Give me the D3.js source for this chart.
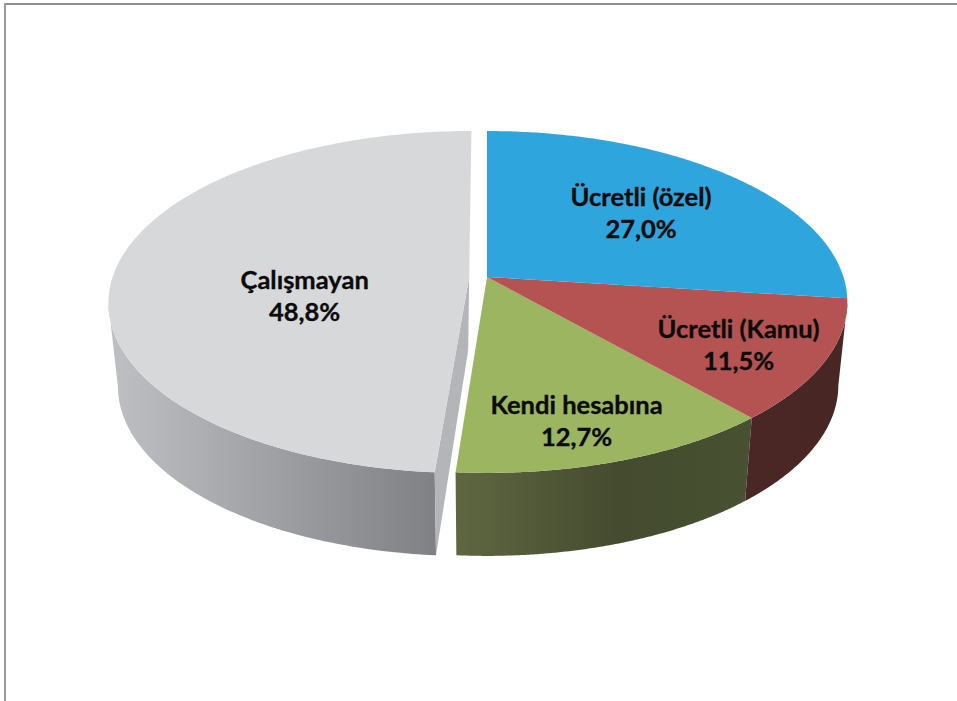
<!DOCTYPE html>
<html>
<head>
<meta charset="utf-8">
<script src="https://cdn.jsdelivr.net/npm/d3@7/dist/d3.min.js"></script>
<style>
html,body{margin:0;padding:0;background:#fff;overflow:hidden}
svg{display:block}
text{font-family:Lato,"Open Sans",sans-serif;font-weight:700;font-size:25.5px;fill:#0b0b0b;stroke:#0b0b0b;stroke-width:.35px;text-anchor:middle}
</style>
</head>
<body>
<svg id="c" width="957" height="701"></svg>
<script>
const categories = ["Ücretli (özel)", "Ücretli (Kamu)", "Kendi hesabına", "Çalışmayan"];
const values = [27.0, 11.5, 12.7, 48.8];
const valueLabels = ["27,0%", "11,5%", "12,7%", "48,8%"];
const topColors = ["#2fa5de", "#b55353", "#9bb561", "#d7d8da"];

const sideStops = [
  [["0%", "#2a7aa0"], ["100%", "#2a7aa0"]],
  [["0%", "#4a2725"], ["100%", "#482624"]],
  [["0%", "#5f6741"], ["55%", "#444b2f"], ["100%", "#485131"]],
  [["0%", "#bfc0c4"], ["100%", "#808185"]]
];
const wallColors = ["#2a7aa0", "#4a2725", "#444b2f", "#b4b5b9"];
const explodeX = [0, 0, 0, -0.05];
const labelNudge = [[0, 9], [51, 27], [14, 47], [52, 32]];

const W = 957, H = 701;
const cx = 487, cy = 277;
const persp = 0.146;
const depth = 83, wallDepth = 73;
const sx = d3.scaleLinear().domain([-1, 1]).range([cx - 356.5, cx + 356.5]);
const sy = d3.scaleLinear().domain([-1, 1]).range([cy - 167.3, cy + 167.3]);
const shrink = 0.975;

function project(x, y, bottom) {
  const w = 1 - persp * y;
  const X = sx(x / w), Y = sy(y / w);
  return bottom ? [cx + (X - cx) * shrink, Y + depth] : [X, Y];
}
const onCircle = (a, r, dx) => [dx + r * Math.sin(a), -r * Math.cos(a)];
const samples = (a0, a1) => d3.range(0, 161).map(i => a0 + (a1 - a0) * i / 160);
const line = d3.line();

const arcs = d3.pie().sort(null).value(d => d)(values);
const svg = d3.select("#c");
const defs = svg.append("defs");

// page frame
svg.append("rect").attr("x", 4).attr("y", 3).attr("width", W).attr("height", 2).attr("fill", "#8e8e8e");
svg.append("rect").attr("x", 4).attr("y", 3).attr("width", 2).attr("height", H).attr("fill", "#9a9a9a");

// outer wall is seen between the two silhouette tangents of the disc
const sideFrom = Math.PI * 0.547, sideTo = Math.PI * 1.455;

function drawSlice(i) {
  const s = arcs[i], dx = explodeX[i];
  const angles = samples(s.startAngle, s.endAngle);
  const pts = angles.map(a => onCircle(a, 1, dx));
  const topArc = pts.map(p => project(p[0], p[1], false));
  const botArc = pts.map(p => project(p[0], p[1], true));

  const facing = angles.map((a, k) => ({a, k})).filter(o => o.a > sideFrom && o.a < sideTo);
  if (facing.length) {
    const t = facing.map(o => topArc[o.k]), b = facing.map(o => botArc[o.k]);
    const id = "side" + i;
    const g = defs.append("linearGradient").attr("id", id)
      .attr("gradientUnits", "userSpaceOnUse")
      .attr("x1", d3.min(t, p => p[0])).attr("x2", d3.max(t, p => p[0]))
      .attr("y1", 0).attr("y2", 0);
    sideStops[i].forEach(st => g.append("stop").attr("offset", st[0]).attr("stop-color", st[1]));
    svg.append("path").attr("d", line(t.concat(b.reverse())) + "Z").attr("fill", `url(#${id})`);
  }

  // cut wall for the separated slice
  if (dx !== 0) {
    const cT = project(dx, 0, false);
    const cB = [cT[0] - 1, cT[1] + wallDepth];
    svg.append("path")
      .attr("d", line([cT, topArc[0], botArc[0], cB]) + "Z")
      .attr("fill", wallColors[i]);
  }

  // top face
  const c = project(dx, 0, false);
  svg.append("path").attr("d", line([c].concat(topArc)) + "Z").attr("fill", topColors[i]);
}

[3, 2, 1, 0].forEach(drawSlice);

arcs.forEach((s, i) => {
  const mid = (s.startAngle + s.endAngle) / 2;
  const p = onCircle(mid, 0.61, explodeX[i]);
  const a = project(p[0], p[1], false);
  const x = a[0] + labelNudge[i][0], y = a[1] + labelNudge[i][1];
  svg.append("text").attr("x", x).attr("y", y - 16).text(categories[i]);
  svg.append("text").attr("x", x).attr("y", y + 16).text(valueLabels[i]);
});
</script>
</body>
</html>
